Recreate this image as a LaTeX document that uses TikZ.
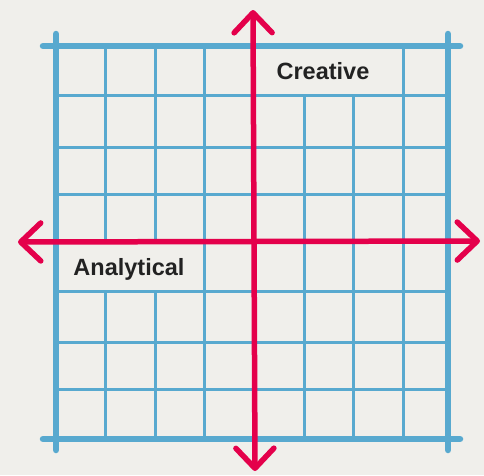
\documentclass[tikz,border=0pt]{standalone}
\usepackage{fontspec}
\setmainfont{Liberation Sans}
\usepackage{xcolor}
\usetikzlibrary{positioning,arrows.meta}

\definecolor{paper}{HTML}{F0EFEB}
\definecolor{gridblue}{HTML}{58A9CF}
\definecolor{axisred}{HTML}{E4004B}
\definecolor{ink}{HTML}{222222}

\begin{document}
\begin{tikzpicture}[
  x=1pt, y=-1pt,
  frame/.style={draw=gridblue, line width=6.5pt, line cap=round},
  cell/.style={draw=gridblue, line width=3pt},
  axis/.style={draw=axisred, line width=5.5pt, line cap=round, line join=round,
               {Straight Barb[length=20pt, width=38pt, line width=5.5pt, round]}-{Straight Barb[length=20pt, width=38pt, line width=5.5pt, round]}},
  tag/.style={font=\bfseries\fontsize{23.5}{26}\selectfont, text=ink, inner sep=0pt}]

\fill[paper] (0,0) rectangle (484,475);
\useasboundingbox (0,0) rectangle (484,475);

% inner grid, with gaps for the two labels
\foreach \gx in {105,155,204,304,353,403} {
  \ifnum\gx=304 \draw[cell] (\gx,95) -- (\gx,439);
  \else\ifnum\gx=353 \draw[cell] (\gx,95) -- (\gx,439);
  \else\ifnum\gx<160 \draw[cell] (\gx,46) -- (\gx,242); \draw[cell] (\gx,291) -- (\gx,439);
  \else \draw[cell] (\gx,46) -- (\gx,439);
  \fi\fi\fi
}
\foreach \gy in {95,147,194,291,342,389}
  \draw[cell] (56,\gy) -- (448,\gy);

% outer frame
\draw[frame] (43,46) -- (460,46);
\draw[frame] (43,439) -- (460,439);
\draw[frame] (56,34) -- (56,450);
\draw[frame] (448,34) -- (448,450);

% axes
\coordinate (top) at (253,10);
\coordinate (bottom) at (255,471);
\coordinate (left) at (18,242);
\coordinate (right) at (480,241);
\draw[axis] (bottom) -- (top);
\draw[axis] (left) -- (right);

\node[tag] (creative) at (323,71) {Creative};
\node[tag] (analytical) at (129,269) {Analytical};

\end{tikzpicture}
\end{document}
